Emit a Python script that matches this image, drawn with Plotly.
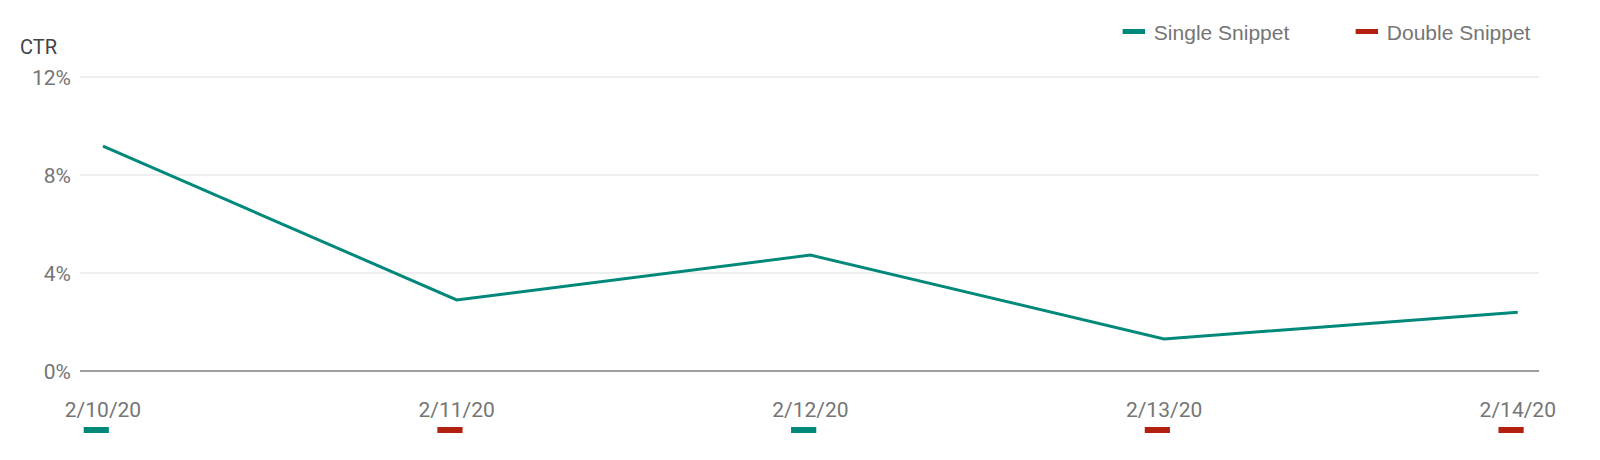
import plotly.graph_objects as go

dates = ["2/10/20", "2/11/20", "2/12/20", "2/13/20", "2/14/20"]
ctr = [9.2, 2.92, 4.75, 1.33, 2.42]
snippet_type = ["Single", "Double", "Single", "Double", "Double"]
y_ticks = [0, 4, 8, 12]
y_tick_labels = ["0%", "4%", "8%", "12%"]

TEAL = "#00897b"
RED = "#b3200f"
GREY_TXT = "#757575"
FONT = "Roboto"
LEG_FONT = "Liberation Sans"

# page body has an 8px margin; size the figure so it fills the 1600x460 window
W, H = 1592, 452
X_RANGE = [-0.065, 4.06]
MARK_SHIFT = 0.019  # small leftward pixel offset of the type markers

fig = go.Figure()

fig.add_trace(go.Scatter(
    x=dates, y=ctr, mode="lines", name="CTR",
    line=dict(color=TEAL, width=3), showlegend=False,
    hoverinfo="x+y",
))

series = [("Single", "Single Snippet", TEAL), ("Double", "Double Snippet", RED)]
for kind, name, color in series:
    idx = [i for i, t in enumerate(snippet_type) if t == kind]
    fig.add_trace(go.Scatter(
        x=idx, y=[0] * len(idx), mode="markers", name=name,
        marker=dict(symbol="line-ew", size=18, line=dict(color=color, width=6)),
        xaxis="x2", yaxis="y2", showlegend=False, cliponaxis=False,
        hovertext=[dates[i] for i in idx], hoverinfo="text+name",
    ))

# legend entries
for kind, name, color in series:
    fig.add_trace(go.Scatter(
        x=[None], y=[None], mode="markers", name=name,
        marker=dict(symbol="line-ew", size=18, line=dict(color=color, width=6)),
    ))

fig.update_layout(
    width=W, height=H,
    margin=dict(l=72, r=61, t=2, b=2, pad=0, autoexpand=False),
    paper_bgcolor="white", plot_bgcolor="white",
    font=dict(family=FONT, size=21, color=GREY_TXT),
    showlegend=True,
    legend=dict(
        orientation="h", xanchor="left", x=0.7086, yanchor="middle", y=0.951,
        font=dict(family=LEG_FONT, size=21, color=GREY_TXT),
        entrywidth=188, bgcolor="rgba(0,0,0,0)",
    ),
    xaxis=dict(
        type="category", range=X_RANGE, anchor="y",
        showgrid=False, zeroline=False, showline=False,
        ticks="outside", ticklen=19, tickcolor="rgba(0,0,0,0)",
        tickfont=dict(family=FONT, size=21, color=GREY_TXT),
    ),
    yaxis=dict(
        domain=[0.1931, 0.8549],
        range=[0, 12.1], tickvals=y_ticks, ticktext=y_tick_labels,
        showgrid=True, gridcolor="#eeeeee", gridwidth=1.5,
        zeroline=True, zerolinecolor="#9e9e9e", zerolinewidth=1.6,
        showline=False, ticks="", ticklabelstandoff=8,
        tickfont=dict(family=FONT, size=21, color=GREY_TXT),
    ),
    xaxis2=dict(
        overlaying="x", anchor="y2", visible=False, type="linear",
        range=[X_RANGE[0] + MARK_SHIFT, X_RANGE[1] + MARK_SHIFT],
    ),
    yaxis2=dict(domain=[0.0425, 0.0825], range=[-1, 1], visible=False),
    annotations=[dict(
        text="CTR", xref="paper", yref="paper",
        x=-0.0425, y=0.917, xanchor="left", yanchor="middle",
        showarrow=False, font=dict(family=FONT, size=20, color="#424242"),
    )],
)

fig.write_html("out.html")
